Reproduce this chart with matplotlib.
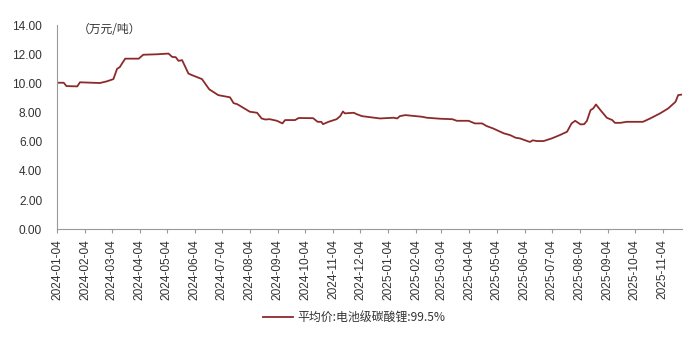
import pandas as pd
import matplotlib
matplotlib.use('Agg')
import matplotlib.pyplot as plt
import matplotlib.dates as mdates

plt.rcParams['font.family'] = ['Liberation Sans', 'Noto Sans CJK SC', 'DejaVu Sans']

# 平均价:电池级碳酸锂:99.5% (万元/吨), 读图估计
datas = ['2024-01-05', '2024-01-11', '2024-01-14', '2024-01-26', '2024-01-29', '2024-02-20',
         '2024-02-28', '2024-03-06', '2024-03-10', '2024-03-13', '2024-03-19', '2024-04-03',
         '2024-04-08', '2024-04-23', '2024-05-06', '2024-05-10', '2024-05-14', '2024-05-17',
         '2024-05-21', '2024-05-28', '2024-06-01', '2024-06-12', '2024-06-20', '2024-06-30',
         '2024-07-13', '2024-07-17', '2024-07-21', '2024-08-04', '2024-08-12', '2024-08-17',
         '2024-08-21', '2024-08-26', '2024-09-03', '2024-09-09', '2024-09-12', '2024-09-23',
         '2024-09-27', '2024-10-13', '2024-10-18', '2024-10-22', '2024-10-24', '2024-10-30',
         '2024-11-08', '2024-11-12', '2024-11-15', '2024-11-17', '2024-11-27', '2024-11-30',
         '2024-12-06', '2024-12-26', '2025-01-10', '2025-01-14', '2025-01-17', '2025-01-23',
         '2025-02-10', '2025-02-16', '2025-03-03', '2025-03-16', '2025-03-21', '2025-04-03',
         '2025-04-10', '2025-04-18', '2025-04-23', '2025-04-30', '2025-05-12', '2025-05-19',
         '2025-05-25', '2025-05-30', '2025-06-07', '2025-06-10', '2025-06-13', '2025-06-18',
         '2025-06-25', '2025-07-04', '2025-07-13', '2025-07-21', '2025-07-26', '2025-07-30',
         '2025-08-05', '2025-08-09', '2025-08-12', '2025-08-16', '2025-08-19', '2025-08-22',
         '2025-08-27', '2025-09-03', '2025-09-09', '2025-09-12', '2025-09-18', '2025-09-25',
         '2025-10-13', '2025-10-21', '2025-11-01', '2025-11-10', '2025-11-18', '2025-11-21',
         '2025-11-25']
precos = [10.05, 10.05, 9.82, 9.80, 10.08, 10.03,
          10.15, 10.30, 11.00, 11.12, 11.70, 11.70,
          11.97, 12.00, 12.05, 11.82, 11.80, 11.55,
          11.60, 10.68, 10.57, 10.30, 9.60, 9.20,
          9.05, 8.65, 8.58, 8.06, 7.99, 7.60,
          7.53, 7.55, 7.44, 7.26, 7.49, 7.49,
          7.63, 7.62, 7.37, 7.37, 7.21, 7.37,
          7.55, 7.76, 8.08, 7.95, 7.99, 7.90,
          7.76, 7.60, 7.65, 7.60, 7.76, 7.83,
          7.72, 7.65, 7.58, 7.55, 7.44, 7.44,
          7.26, 7.26, 7.08, 6.92, 6.58, 6.46,
          6.28, 6.23, 6.05, 5.99, 6.10, 6.05,
          6.05, 6.23, 6.46, 6.69, 7.26, 7.44,
          7.19, 7.21, 7.44, 8.17, 8.29, 8.56,
          8.17, 7.65, 7.49, 7.30, 7.30, 7.37,
          7.37, 7.60, 7.95, 8.29, 8.74, 9.20,
          9.24]
serie = '平均价:电池级碳酸锂:99.5%'
unidade = '（万元/吨）'

datas = pd.to_datetime(datas)
ticks = pd.date_range('2024-01-01', '2025-11-01', freq='MS') + pd.Timedelta(days=3)

fig = plt.figure(figsize=(7, 3.49), dpi=100)
ax = fig.add_axes([0.082, 0.343, 0.892, 0.585])

ax.plot(datas, precos, color='#8c2a2a', linewidth=1.3, label=serie)

ax.set_xlim(pd.Timestamp('2024-01-04'), pd.Timestamp('2025-11-25'))
ax.set_ylim(0, 14)
ax.set_yticks(range(0, 15, 2))
ax.yaxis.set_major_formatter(plt.FormatStrFormatter('%.2f'))
ax.set_xticks(ticks)
ax.xaxis.set_major_formatter(mdates.DateFormatter('%Y-%m-%d'))
plt.setp(ax.get_xticklabels(), rotation=90)

ax.tick_params(axis='y', length=0, labelsize=8.6, colors='#333333', pad=11)
ax.tick_params(axis='x', length=3, labelsize=8.6, colors='#333333', direction='out', pad=4, color='#999999')
for t in ax.get_xticklabels() + ax.get_yticklabels():
    t.set_color('#333333')

for lado in ['top', 'right']:
    ax.spines[lado].set_visible(False)
for lado in ['left', 'bottom']:
    ax.spines[lado].set_color('#999999')
    ax.spines[lado].set_linewidth(0.8)

ax.text(0.033, 0.98, unidade, transform=ax.transAxes, fontsize=8.5, color='#333333',
        va='center', ha='left', family=['Noto Sans CJK SC', 'DejaVu Sans'])

leg = fig.legend(loc='center', bbox_to_anchor=(0.506, 0.089), frameon=False,
                 fontsize=8.6, handlelength=2.5, handletextpad=0.35)
for t in leg.get_texts():
    t.set_family(['Noto Sans CJK SC', 'DejaVu Sans'])
    t.set_color('#333333')

plt.savefig('out.png', dpi=100)
plt.close()
